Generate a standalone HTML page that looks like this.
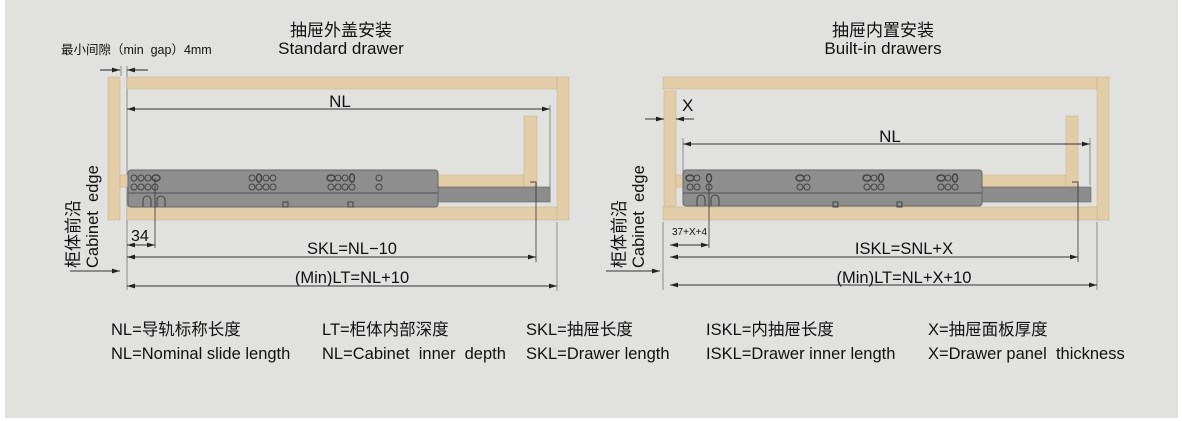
<!DOCTYPE html>
<html><head><meta charset="utf-8"><style>
html,body{margin:0;padding:0;background:#fff;}
svg{display:block;}
text{font-family:"Liberation Sans","Noto Sans CJK SC",sans-serif;fill:#111;white-space:pre;}
</style></head><body>
<svg width="1182" height="421" viewBox="0 0 1182 421" xmlns="http://www.w3.org/2000/svg" xml:space="preserve">
<defs>
<marker id="a" viewBox="0 0 10 6" refX="10" refY="3" markerWidth="8" markerHeight="5" orient="auto-start-reverse"><path d="M0,0 L10,3 L0,6 z" fill="#222"/></marker>
</defs>
<rect x="5" y="0" width="1173" height="418" fill="#e1e1e0"/>

<!-- LEFT -->
<text x="341" y="36" font-size="17" text-anchor="middle">抽屉外盖安装</text>
<text x="341" y="54" font-size="17" text-anchor="middle">Standard drawer</text>
<text x="61" y="54" font-size="12.5">最小间隙（min  gap）4mm</text>
<line x1="100" y1="70" x2="120" y2="70" stroke="#222" marker-end="url(#a)"/>
<line x1="148" y1="70" x2="127" y2="70" stroke="#222" marker-end="url(#a)"/>
<line x1="121" y1="66" x2="121" y2="76" stroke="#777" stroke-width=".8"/>
<line x1="127" y1="66" x2="127" y2="290" stroke="#777" stroke-width=".8"/>
<g fill="#e3cda8" stroke="#c9b590" stroke-width=".6">
<rect x="108" y="77" width="12" height="143"/>
<rect x="127" y="77" width="430" height="12"/>
<rect x="557" y="77" width="12" height="143"/>
<rect x="127" y="207" width="430" height="13"/>
<rect x="120" y="175" width="404" height="12"/>
<rect x="524" y="116" width="13" height="71"/>
</g>
<rect x="437" y="187" width="113" height="15" fill="#8c8c8c" stroke="#666" stroke-width=".6"/>
<rect x="128" y="170" width="310" height="37" rx="3" fill="#8e8e8e" stroke="#666"/>
<line x1="128" y1="193" x2="438" y2="193" stroke="#666" stroke-width="1.5"/>
<g fill="none" stroke="#444" stroke-width="1">
<circle cx="134" cy="178" r="3"/><circle cx="141" cy="178" r="3"/><circle cx="148" cy="178" r="3"/><ellipse cx="156" cy="178" rx="4" ry="3" stroke-width="1.5"/>
<circle cx="134" cy="187" r="3"/><circle cx="141" cy="187" r="3"/><circle cx="148" cy="187" r="3"/><circle cx="155" cy="187" r="3"/>
<circle cx="252" cy="178" r="3"/><ellipse cx="259" cy="178" rx="2.5" ry="4" stroke-width="1.5"/><circle cx="266" cy="178" r="3"/><circle cx="273" cy="178" r="3"/>
<circle cx="252" cy="187" r="3"/><circle cx="259" cy="187" r="3"/><circle cx="266" cy="187" r="3"/><circle cx="273" cy="187" r="3"/>
<ellipse cx="331" cy="178" rx="4" ry="3" stroke-width="1.5"/><circle cx="338" cy="178" r="3"/><circle cx="345" cy="178" r="3"/><ellipse cx="352" cy="178" rx="2.5" ry="4" stroke-width="1.5"/>
<circle cx="331" cy="187" r="3"/><circle cx="338" cy="187" r="3"/><circle cx="345" cy="187" r="3"/><circle cx="352" cy="187" r="3"/>
<circle cx="379" cy="178" r="3"/><circle cx="379" cy="187" r="3"/>
<path d="M143,207 v-7 a4,4 0 0 1 8,0 v7 M157,207 v-7 a4,4 0 0 1 8,0 v7"/>
<rect x="283" y="202" width="5" height="5"/><rect x="348" y="202" width="5" height="5"/>
<path d="M530,182 h6 v6"/>
</g>
<line x1="127" y1="109" x2="550" y2="109" stroke="#333" marker-start="url(#a)" marker-end="url(#a)"/>
<line x1="550" y1="105" x2="550" y2="202" stroke="#777" stroke-width=".8"/>
<text x="340" y="107" font-size="17" text-anchor="middle">NL</text>
<line x1="155" y1="178" x2="155" y2="248" stroke="#333" stroke-width=".8"/>
<line x1="536" y1="185" x2="536" y2="262" stroke="#333" stroke-width=".8"/>
<line x1="557" y1="222" x2="557" y2="291" stroke="#777" stroke-width=".8"/>
<text x="131" y="241" font-size="16">34</text>
<line x1="127" y1="245" x2="155" y2="245" stroke="#333" marker-start="url(#a)" marker-end="url(#a)"/>
<text x="352" y="254" font-size="16.5" text-anchor="middle">SKL=NL−10</text>
<line x1="127" y1="257" x2="536" y2="257" stroke="#333" marker-start="url(#a)" marker-end="url(#a)"/>
<text x="352" y="283" font-size="16.5" text-anchor="middle">(Min)LT=NL+10</text>
<line x1="127" y1="286" x2="557" y2="286" stroke="#333" marker-start="url(#a)" marker-end="url(#a)"/>
<line x1="70" y1="271" x2="120" y2="271" stroke="#333" marker-end="url(#a)"/>
<text transform="translate(79,268) rotate(-90)" font-size="17">柜体前沿</text>
<text transform="translate(98,268) rotate(-90)" font-size="16.5">Cabinet  edge</text>

<!-- RIGHT -->
<text x="883" y="36" font-size="17" text-anchor="middle">抽屉内置安装</text>
<text x="883" y="54" font-size="17" text-anchor="middle">Built-in drawers</text>
<g fill="#e3cda8" stroke="#c9b590" stroke-width=".6">
<rect x="663" y="77" width="434" height="12"/>
<rect x="1097" y="77" width="12" height="143"/>
<rect x="663" y="207" width="434" height="13"/>
<rect x="664" y="91" width="12" height="115"/>
<rect x="676" y="175" width="390" height="12"/>
<rect x="1066" y="116" width="12" height="71"/>
</g>
<rect x="982" y="187" width="109" height="15" fill="#8c8c8c" stroke="#666" stroke-width=".6"/>
<rect x="683" y="170" width="299" height="36" rx="3" fill="#8e8e8e" stroke="#666"/>
<line x1="683" y1="193" x2="982" y2="193" stroke="#666" stroke-width="1.5"/>
<g fill="none" stroke="#444" stroke-width="1">
<ellipse cx="690" cy="178" rx="4" ry="3" stroke-width="1.5"/><circle cx="697" cy="178" r="3"/><ellipse cx="709" cy="178" rx="2.5" ry="4" stroke-width="1.5"/>
<circle cx="690" cy="187" r="3"/><circle cx="697" cy="187" r="3"/><circle cx="709" cy="187" r="3"/>
<ellipse cx="800" cy="178" rx="4" ry="3" stroke-width="1.5"/><circle cx="807" cy="178" r="3"/>
<circle cx="800" cy="187" r="3"/><circle cx="807" cy="187" r="3"/>
<ellipse cx="867" cy="178" rx="4" ry="3" stroke-width="1.5"/><circle cx="874" cy="178" r="3"/><ellipse cx="881" cy="178" rx="2.5" ry="4" stroke-width="1.5"/>
<circle cx="867" cy="187" r="3"/><circle cx="874" cy="187" r="3"/><circle cx="881" cy="187" r="3"/>
<ellipse cx="941" cy="178" rx="4" ry="3" stroke-width="1.5"/><circle cx="948" cy="178" r="3"/><ellipse cx="955" cy="178" rx="2.5" ry="4" stroke-width="1.5"/>
<circle cx="941" cy="187" r="3"/><circle cx="948" cy="187" r="3"/><circle cx="955" cy="187" r="3"/>
<path d="M697,206 v-7 a4,4 0 0 1 8,0 v7 M711,206 v-7 a4,4 0 0 1 8,0 v7"/>
<rect x="833" y="202" width="5" height="5"/><rect x="897" y="202" width="5" height="5"/>
<path d="M1072,182 h6 v6"/>
</g>
<text x="682" y="111" font-size="17">X</text>
<line x1="645" y1="119" x2="664" y2="119" stroke="#333" marker-end="url(#a)"/>
<line x1="694" y1="119" x2="676" y2="119" stroke="#333" marker-end="url(#a)"/>
<line x1="683" y1="138" x2="683" y2="172" stroke="#777" stroke-width=".8"/>
<line x1="1090" y1="138" x2="1090" y2="185" stroke="#777" stroke-width=".8"/>
<line x1="683" y1="144" x2="1090" y2="144" stroke="#333" marker-start="url(#a)" marker-end="url(#a)"/>
<text x="890" y="142" font-size="17" text-anchor="middle">NL</text>
<line x1="663" y1="222" x2="663" y2="290" stroke="#777" stroke-width=".8"/>
<line x1="1097" y1="222" x2="1097" y2="290" stroke="#777" stroke-width=".8"/>
<line x1="709" y1="183" x2="709" y2="248" stroke="#333" stroke-width=".8"/>
<line x1="1078" y1="185" x2="1078" y2="262" stroke="#333" stroke-width=".8"/>
<text x="672" y="235" font-size="10">37+X+4</text>
<line x1="670" y1="245" x2="709" y2="245" stroke="#333" marker-start="url(#a)" marker-end="url(#a)"/>
<text x="904" y="254" font-size="16.5" text-anchor="middle">ISKL=SNL+X</text>
<line x1="670" y1="257" x2="1078" y2="257" stroke="#333" marker-start="url(#a)" marker-end="url(#a)"/>
<text x="904" y="283" font-size="16.5" text-anchor="middle">(Min)LT=NL+X+10</text>
<line x1="670" y1="285" x2="1097" y2="285" stroke="#333" marker-start="url(#a)" marker-end="url(#a)"/>
<line x1="606" y1="271" x2="660" y2="271" stroke="#333" marker-end="url(#a)"/>
<text transform="translate(625,268) rotate(-90)" font-size="17">柜体前沿</text>
<text transform="translate(644,268) rotate(-90)" font-size="16.5">Cabinet  edge</text>

<!-- LEGEND -->
<g font-size="16.5">
<text x="111" y="335">NL=导轨标称长度</text>
<text x="111" y="359">NL=Nominal slide length</text>
<text x="322" y="335">LT=柜体内部深度</text>
<text x="322" y="359">NL=Cabinet  inner  depth</text>
<text x="526" y="335">SKL=抽屉长度</text>
<text x="526" y="359">SKL=Drawer length</text>
<text x="706" y="335">ISKL=内抽屉长度</text>
<text x="706" y="359">ISKL=Drawer inner length</text>
<text x="928" y="335">X=抽屉面板厚度</text>
<text x="928" y="359">X=Drawer panel  thickness</text>
</g>
</svg>
</body></html>
